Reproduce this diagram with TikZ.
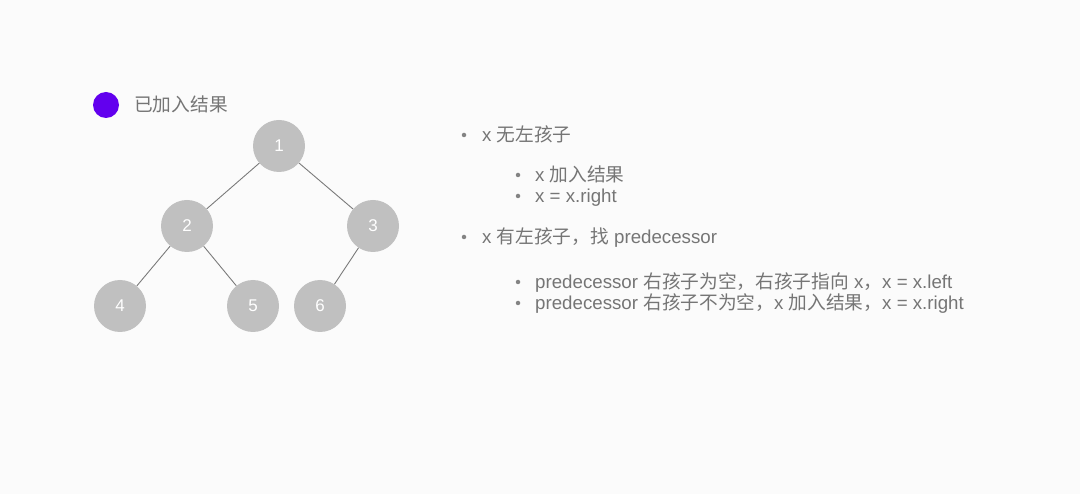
\documentclass[tikz,border=0pt]{standalone}
\usepackage{fontspec}
\setmainfont{Liberation Sans}
\newfontfamily\cjk{Noto Sans CJK SC}
\definecolor{bg}{HTML}{FBFBFB}
\definecolor{nodefill}{HTML}{C0C0C0}
\definecolor{txt}{HTML}{757575}
\definecolor{edge}{HTML}{7A7A7A}
\definecolor{mark}{HTML}{6200EE}
\tikzset{
  tnode/.style={circle, fill=nodefill, minimum size=52pt, inner sep=0pt, text=white, font=\fontsize{17}{18}\selectfont},
  tedge/.style={draw=edge, line width=0.9pt},
  item/.style={anchor=base west, inner sep=0pt, text=txt, font=\fontsize{18.7}{21}\selectfont},
  dot/.style={circle, fill=txt!90, minimum size=4.5pt, inner sep=0pt}
}
\begin{document}
\begin{tikzpicture}[x=1pt,y=-1pt]
\fill[bg] (0,0) rectangle (1080,494);
\useasboundingbox (0,0) rectangle (1080,494);
% legend
\node[circle, fill=mark, minimum size=26pt, inner sep=0pt] (legdot) at (106,105) {};
\node[item] (legtxt) at (134,112) {\cjk 已加入结果};
% tree
\node[tnode] (n1) at (279,146) {1};
\node[tnode] (n2) at (187,226) {2};
\node[tnode] (n3) at (373,226) {3};
\node[tnode] (n4) at (120,306) {4};
\node[tnode] (n5) at (253,306) {5};
\node[tnode] (n6) at (320,306) {6};
\path[tedge] (n1) -- (n2);
\path[tedge] (n1) -- (n3);
\path[tedge] (n2) -- (n4);
\path[tedge] (n2) -- (n5);
\path[tedge] (n3) -- (n6);
% list
\node[dot] (b1) at (464,135) {};
\node[item] (t1) at (482,142) {x {\cjk 无左孩子}};
\node[dot] (b11) at (518,175) {};
\node[item] (t11) at (535,182) {x {\cjk 加入结果}};
\node[dot] (b12) at (518,196) {};
\node[item] (t12) at (535,203) {x = x.right};
\node[dot] (b2) at (464,237) {};
\node[item] (t2) at (482,244) {x {\cjk 有左孩子，找} predecessor};
\node[dot] (b21) at (518,282) {};
\node[item] (t21) at (535,289) {predecessor {\cjk 右孩子为空，右孩子指向} x{\cjk ，}x = x.left};
\node[dot] (b22) at (518,303) {};
\node[item] (t22) at (535,310) {predecessor {\cjk 右孩子不为空，}x {\cjk 加入结果，}x = x.right};
\end{tikzpicture}
\end{document}
